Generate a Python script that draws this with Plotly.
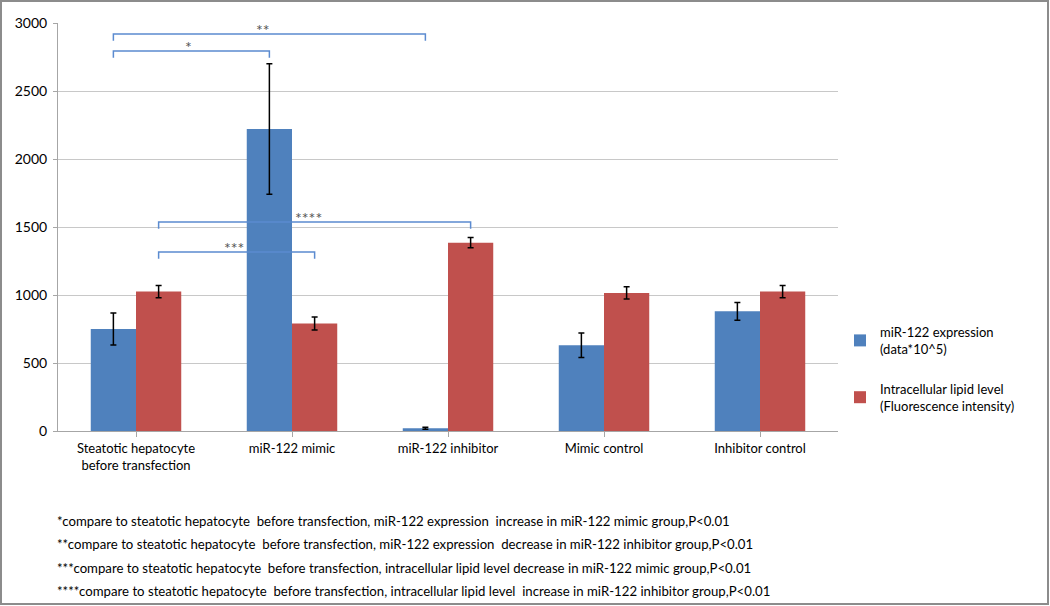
import plotly.graph_objects as go

# ---- data ----
categories = [
    "Steatotic hepatocyte<br>before transfection",
    "miR-122 mimic",
    "miR-122 inhibitor",
    "Mimic control",
    "Inhibitor control",
]
mir122_expression = [750, 2220, 20, 630, 880]
mir122_error = [118, 480, 8, 90, 65]
lipid_level = [1025, 790, 1385, 1015, 1025]
lipid_error = [45, 48, 38, 45, 45]

# significance brackets: (left category, left series, right category, right series, level, label)
brackets = [
    (0, "blue", 1, "blue", 2795, "*"),
    (0, "blue", 2, "blue", 2920, "**"),
    (0, "red", 1, "red", 1316, "***"),
    (0, "red", 2, "red", 1537, "****"),
]

footnotes = [
    "*compare to steatotic hepatocyte  before transfection, miR-122 expression  increase in miR-122 mimic group,P<0.01",
    "**compare to steatotic hepatocyte  before transfection, miR-122 expression  decrease in miR-122 inhibitor group,P<0.01",
    "***compare to steatotic hepatocyte  before transfection, intracellular lipid level decrease in miR-122 mimic group,P<0.01",
    "****compare to steatotic hepatocyte  before transfection, intracellular lipid level  increase in miR-122 inhibitor group,P<0.01",
]

_BLUE = "#4F81BD"
_RED = "#C0504D"
_BRACKET = "#5B8BD0"
_FONT = "Lato"
_BARGAP = 0.42

# plot area in pixels
W, H = 1050, 606
L, R, T, B = 58, 838, 23, 431

fig = go.Figure()
fig.add_trace(go.Bar(
    x=list(range(len(categories))), y=mir122_expression,
    name="miR-122 expression<br>(data*10^5)",
    marker={"color": _BLUE, "line": {"width": 0}},
    error_y={"type": "data", "array": mir122_error, "color": "#000000",
             "thickness": 1.5, "width": 3},
    legendgroup="a",
))
fig.add_trace(go.Bar(
    x=list(range(len(categories))), y=lipid_level,
    name="Intracellular lipid level<br>(Fluorescence intensity)",
    marker={"color": _RED, "line": {"width": 0}},
    error_y={"type": "data", "array": lipid_error, "color": "#000000",
             "thickness": 1.5, "width": 3},
    legendgroup="b",
))

# brackets drawn in data coordinates
half = (1 - _BARGAP) / 4
tick_drop = 50
for left_cat, left_series, right_cat, right_series, level, label in brackets:
    x0 = left_cat + (-half if left_series == "blue" else half)
    x1 = right_cat + (-half if right_series == "blue" else half)
    fig.add_shape(
        type="path",
        xref="x", yref="y",
        path=f"M {x0},{level - tick_drop} L {x0},{level} L {x1},{level} L {x1},{level - tick_drop}",
        line={"color": _BRACKET, "width": 1.5},
    )
    fig.add_annotation(
        x=(x0 + x1) / 2 - (x1 - x0) * 0.02, y=level, xref="x", yref="y",
        text=label, showarrow=False, yanchor="bottom", yshift=-7,
        font={"family": _FONT, "size": 16, "color": "#555555"},
    )

# footnotes below the chart
pw, ph = R - L, B - T
for i, note in enumerate(footnotes):
    fig.add_annotation(
        x=(55 - L) / pw, y=(B - (521 + 23.3 * i)) / ph,
        xref="paper", yref="paper", xanchor="left", yanchor="middle",
        text=note, showarrow=False, align="left",
        font={"family": _FONT, "size": 13.2, "color": "#000000"},
    )

# outer frame of the image
fig.add_shape(
    type="rect", xref="paper", yref="paper",
    x0=(1 - L) / pw, x1=(W - 2 - L) / pw,
    y0=(B - (H - 2)) / ph, y1=(B - 1) / ph,
    line={"color": "#8C8C8C", "width": 2},
)

fig.update_layout(
    width=W, height=H,
    margin={"l": L, "r": W - R, "t": T, "b": H - B},
    paper_bgcolor="white", plot_bgcolor="white",
    barmode="group", bargap=_BARGAP, bargroupgap=0,
    font={"family": _FONT, "size": 13, "color": "#000000"},
    xaxis={
        "tickmode": "array",
        "tickvals": list(range(len(categories))),
        "ticktext": categories,
        "range": [-0.5, len(categories) - 0.5],
        "showline": True, "linecolor": "#A6A6A6", "linewidth": 1,
        "ticks": "outside", "tickson": "boundaries", "ticklen": 5,
        "tickcolor": "#A6A6A6", "showgrid": False, "zeroline": False,
        "tickfont": {"size": 13},
    },
    yaxis={
        "range": [0, 3000], "dtick": 500,
        "showline": True, "linecolor": "#A6A6A6", "linewidth": 1,
        "ticks": "outside", "ticklen": 4, "tickcolor": "#A6A6A6",
        "showgrid": True, "gridcolor": "#C8C8C8", "gridwidth": 1,
        "zeroline": False, "tickfont": {"size": 14},
        "ticklabelstandoff": 3,
    },
    legend={
        "x": (840 - L) / pw, "y": (B - 369) / ph,
        "xanchor": "left", "yanchor": "middle",
        "font": {"size": 13}, "tracegroupgap": 20,
        "bgcolor": "rgba(0,0,0,0)",
    },
    showlegend=True,
)

fig.write_html(
    "out.html",
    config={"displayModeBar": False},
    post_script="document.body.style.margin = '0px';",
)
